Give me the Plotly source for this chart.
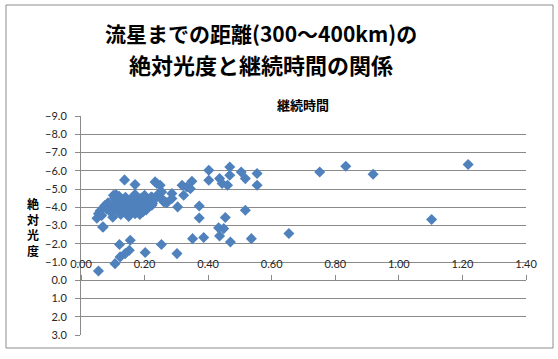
import plotly.graph_objects as go

# Data: duration (s) vs absolute magnitude
duration = [
    0.050, 0.055, 0.060, 0.065, 0.070, 0.075, 0.080, 0.085, 0.090, 0.095,
    0.100, 0.100, 0.105, 0.110, 0.110, 0.115, 0.120, 0.120, 0.125, 0.130,
    0.130, 0.135, 0.140, 0.140, 0.145, 0.150, 0.150, 0.155, 0.160, 0.160,
    0.165, 0.170, 0.170, 0.175, 0.180, 0.185, 0.190, 0.190, 0.195, 0.200,
    0.200, 0.205, 0.210, 0.215, 0.220, 0.225, 0.235, 0.245, 0.255, 0.260,
    0.270,
    0.137, 0.170, 0.233, 0.170, 0.102, 0.239, 0.249, 0.254, 0.223, 0.223,
    0.286, 0.286, 0.265, 0.304, 0.323, 0.318, 0.333, 0.344, 0.349, 0.372,
    0.372, 0.402, 0.402, 0.436, 0.444, 0.461, 0.468, 0.468, 0.504, 0.517,
    0.554, 0.554, 0.517, 0.454, 0.449, 0.433, 0.436, 0.470, 0.536, 0.654,
    0.351, 0.386, 0.302, 0.253, 0.202,
    0.751, 0.833, 0.919, 1.218, 1.103,
    0.055, 0.107, 0.121, 0.155, 0.123, 0.139, 0.152, 0.068,
]
magnitude = [
    -3.40, -3.65, -3.80, -3.55, -2.92, -4.10, -3.90, -4.25, -4.00, -3.70,
    -4.15, -3.45, -4.50, -4.70, -3.90, -4.30, -4.60, -4.00, -3.60, -4.40,
    -3.85, -4.10, -4.55, -3.70, -4.30, -4.00, -3.50, -4.40, -3.80, -4.15,
    -4.60, -3.65, -4.00, -4.35, -3.90, -3.60, -4.20, -4.50, -3.75, -4.00,
    -4.65, -3.85, -4.30, -4.10, -4.55, -4.20, -4.50, -4.75, -4.45, -4.30,
    -4.25,
    -5.50, -5.24, -5.39, -4.70, -4.66, -5.30, -5.21, -4.84, -4.56, -4.11,
    -4.75, -4.48, -4.29, -4.02, -4.66, -5.21, -5.11, -5.02, -5.42, -4.07,
    -3.41, -6.03, -5.48, -5.57, -5.30, -5.21, -6.21, -5.75, -5.93, -5.57,
    -5.85, -5.21, -3.84, -3.44, -2.83, -2.87, -2.43, -2.10, -2.28, -2.56,
    -2.28, -2.34, -1.46, -1.96, -1.52,
    -5.93, -6.25, -5.81, -6.34, -3.33,
    -0.51, -0.91, -1.96, -2.19, -1.28, -1.46, -1.64, -2.92,
]

title_line1 = "流星までの距離(300～400km)の"
title_line2 = "絶対光度と継続時間の関係"
x_title = "継続時間"
y_title_chars = ["絶", "対", "光", "度"]

W, H = 558, 359
ML, MR, MT, MB = 81, 32, 116, 24
PW, PH = W - ML - MR, H - MT - MB


def px(x):
    return (x - ML) / PW


def py(y):
    return (H - MB - y) / PH


GRID = "#8a8a8a"
TXT = "#262626"
FONT = "Noto Sans CJK JP"

fig = go.Figure()
fig.add_trace(go.Scatter(
    x=duration, y=magnitude, mode="markers",
    marker=dict(symbol="diamond", size=8.5, color="#4F81BD", line=dict(width=0)),
    cliponaxis=False, showlegend=False,
))

fig.update_layout(
    width=W, height=H,
    margin=dict(l=ML, r=MR, t=MT, b=MB),
    paper_bgcolor="white", plot_bgcolor="white",
    font=dict(family=FONT, size=11, color=TXT),
    xaxis=dict(
        range=[0, 1.4], dtick=0.2, tickformat=".2f",
        anchor="free", position=0.25, side="top",
        showline=True, linecolor=GRID, linewidth=1,
        ticks="outside", ticklen=5, tickcolor=GRID,
        showgrid=False, zeroline=False,
        tickfont=dict(family="Lato", size=11, color=TXT),
        ticklabelstandoff=3,
    ),
    yaxis=dict(
        range=[3, -9], dtick=1, tickformat=".1f",
        showline=True, linecolor=GRID, linewidth=1,
        ticks="outside", ticklen=5, tickcolor=GRID,
        showgrid=True, gridcolor=GRID, gridwidth=1, zeroline=False,
        tickfont=dict(family="Lato", size=11, color=TXT),
        ticklabelstandoff=6,
    ),
    shapes=[dict(
        type="rect", xref="paper", yref="paper",
        x0=px(6), x1=px(553), y0=py(348), y1=py(5),
        line=dict(color="#8c8c8c", width=1), fillcolor="rgba(0,0,0,0)",
        layer="below",
    )],
)

ann = []
ann.append(dict(text="<b>" + title_line1 + "</b>", x=px(261), y=py(33),
                font=dict(family=FONT, size=21, color="black")))
ann.append(dict(text="<b>" + title_line2 + "</b>", x=px(261), y=py(64),
                font=dict(family=FONT, size=22, color="black")))
ann.append(dict(text="<b>" + x_title + "</b>", x=px(303), y=py(104),
                font=dict(family=FONT, size=13, color="black")))
ann.append(dict(text="<br>".join("<b>" + c + "</b>" for c in y_title_chars),
                x=px(33), y=py(227),
                font=dict(family=FONT, size=12, color="black")))
for a in ann:
    a.update(xref="paper", yref="paper", showarrow=False,
             xanchor="center", yanchor="middle")
fig.update_layout(annotations=ann)

fig.write_html("out.html", config={"displayModeBar": False},
               post_script="document.body.style.margin='0';")
